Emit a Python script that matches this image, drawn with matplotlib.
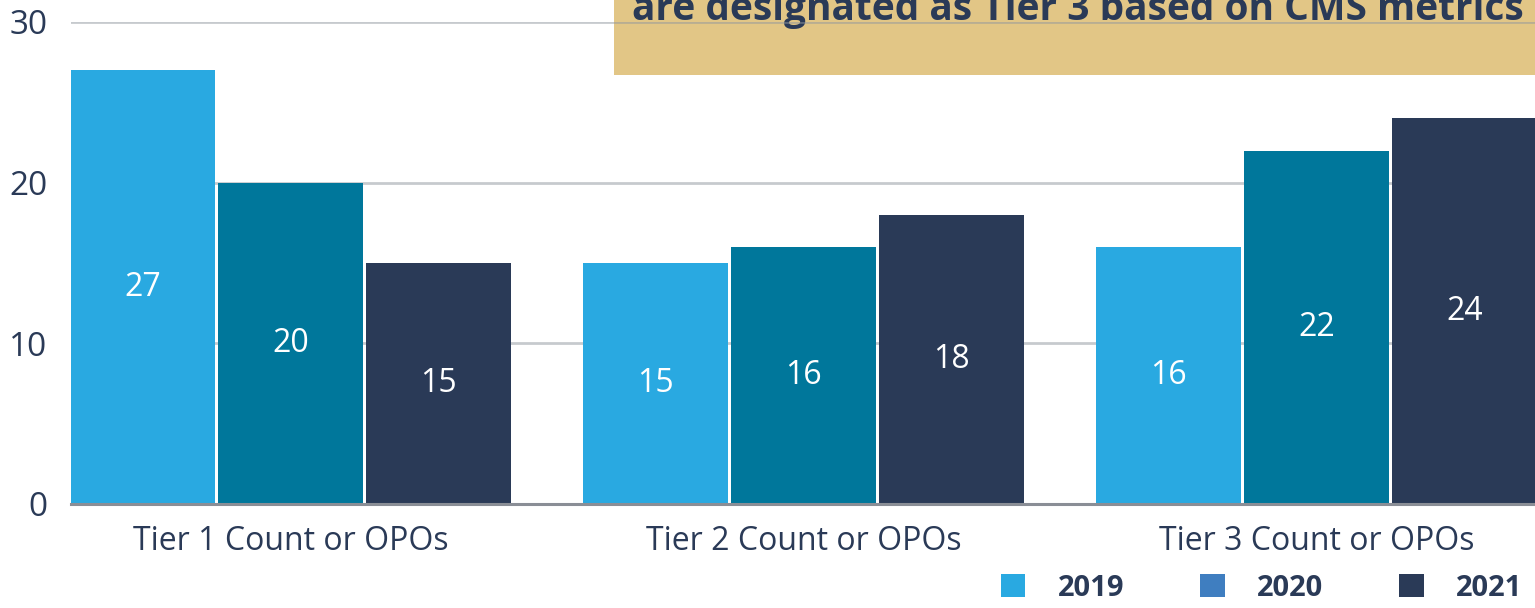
import matplotlib
matplotlib.use("Agg")
import matplotlib.pyplot as plt
import numpy as np
from matplotlib.patches import Rectangle, Patch

plt.rcParams['font.family'] = ['Open Sans', 'DejaVu Sans']

categories = ["Tier 1 Count or OPOs", "Tier 2 Count or OPOs", "Tier 3 Count or OPOs"]
years = ["2019", "2020", "2021"]
values_2019 = [27, 15, 16]
values_2020 = [20, 16, 22]
values_2021 = [15, 18, 24]
yticks = [0, 10, 20, 30]
callout_text = "are designated as Tier 3 based on CMS metrics"

bar_colors = ["#29A9E1", "#00779B", "#2A3A57"]
legend_colors = ["#29A9E1", "#3F7EC0", "#2A3A57"]
navy = "#2A3A57"

W, H = 1535, 608
fig = plt.figure(figsize=(W / 100, H / 100), dpi=100)
ax = fig.add_axes([71 / W, 1 - 504 / H, 1 - 71 / W, (504 - 22) / H])
ax.set_facecolor('none')

# callout box behind axes
fig.patches.append(Rectangle((614 / W, 1 - 75 / H), 1 - 614 / W, 75 / H + 0.01,
                             transform=fig.transFigure, facecolor="#E2C686",
                             edgecolor='none', zorder=-1))
fig.text(632 / W, 1 - 20 / H, callout_text, fontsize=28, fontweight='bold',
         color=navy, ha='left', va='baseline', zorder=-0.5)

x = np.arange(len(categories))
bw = 145 / 513
step = 148 / 513
series = [values_2019, values_2020, values_2021]
for i, vals in enumerate(series):
    pos = x + (i - 1) * step
    ax.bar(pos, vals, width=bw, color=bar_colors[i], zorder=2)
    for xb, v in zip(pos, vals):
        ax.text(xb, v / 2, str(v), ha='center', va='center', color='white',
                fontsize=23, zorder=3)

ax.set_xlim((71 - 290.5) / 513, (1535 - 290.5) / 513)
ax.set_ylim(0, 30)
ax.set_yticks(yticks)
ax.set_yticklabels([str(t) for t in yticks])
ax.set_xticks(x)
ax.set_xticklabels(categories)
ax.tick_params(axis='y', length=0, pad=17, labelsize=24, labelcolor=navy)
ax.tick_params(axis='x', length=0, pad=15, labelsize=23, labelcolor=navy)
ax.yaxis.grid(True, color='#8F969E', alpha=0.5, linewidth=2, zorder=0)
ax.set_axisbelow(True)
for s in ['top', 'right', 'left']:
    ax.spines[s].set_visible(False)
ax.spines['bottom'].set_color('#8A8E96')
ax.spines['bottom'].set_linewidth(2.2)
ax.spines['bottom'].set_zorder(2.5)

handles = [Patch(facecolor=c, edgecolor='none') for c in legend_colors]
fig.legend(handles, years, loc='lower right', bbox_to_anchor=(1.003, -0.02),
           ncol=3, frameon=False, prop={'weight': 'bold', 'size': 21},
           labelcolor=navy, handlelength=0.85, handleheight=0.85,
           handletextpad=1.1, columnspacing=2.6, borderaxespad=0.2)

fig.savefig("out.png", dpi=100)
